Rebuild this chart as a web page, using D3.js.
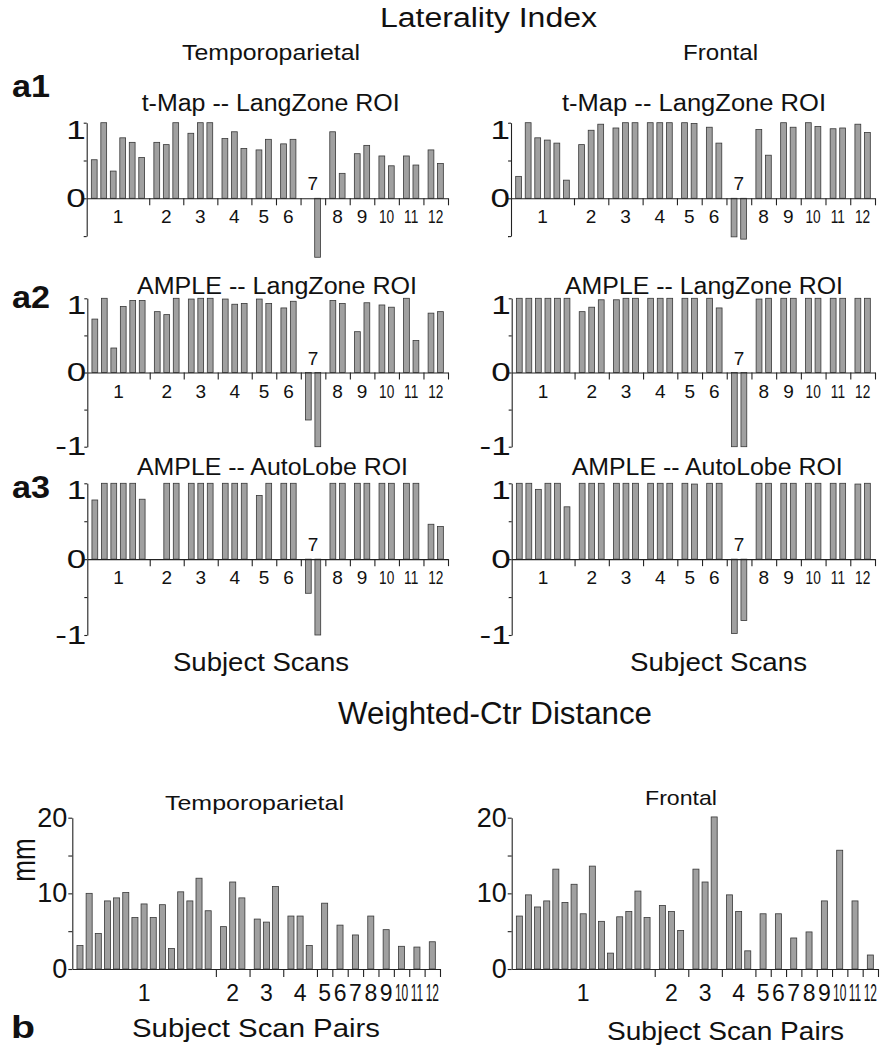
<!DOCTYPE html>
<html>
<head>
<meta charset="utf-8">
<script src="https://cdn.jsdelivr.net/npm/d3@7"></script>
<style>
  body { margin: 0; background: #fff; }
  svg { display: block; font-family: "Liberation Sans", Arial, Helvetica, sans-serif; }
</style>
</head>
<body>
<svg id="fig" width="891" height="1053"></svg>
<script>
// subjects and how many scans / scan pairs each one has
const subjects = ["1","2","3","4","5","6","7","8","9","10","11","12"];
const scansPerSubject = [6,3,3,3,2,2,2,2,2,2,2,2];
const pairsPerSubject = [15,3,3,3,1,1,1,1,1,1,1,1];

// laterality index, one value per scan (null = no bar)
const tmapTemporo = [0.51,1.0,0.36,0.80,0.74,0.54, 0.74,0.71,1.0, 0.86,1.0,1.0, 0.79,0.88,0.66,
  0.64,0.78, 0.72,0.78, null,-0.78, 0.88,0.33, 0.59,0.70, 0.56,0.43, 0.56,0.44, 0.64,0.46];
const tmapFrontal = [0.29,1.0,0.80,0.77,0.73,0.24, 0.71,0.90,0.98, 0.93,1.0,1.0, 1.0,1.0,1.0,
  1.0,0.99, 0.94,0.73, -0.51,-0.54, 0.91,0.57, 1.0,0.94, 1.0,0.95, 0.92,0.93, 0.98,0.87];
const ampleLangTemporo = [0.72,1.0,0.33,0.89,0.97,0.97, 0.82,0.78,1.0, 0.99,1.0,1.0, 0.99,0.92,0.93,
  0.99,0.93, 0.87,0.96, -0.64,-1.0, 0.97,0.93, 0.55,0.94, 0.91,0.88, 1.0,0.43, 0.80,0.82];
const ampleLangFrontal = [1,1,1,1,1,1, 0.82,0.88,0.98, 0.98,1,1, 1,1,1,
  1,1, 1,0.87, -1,-1, 0.99,1, 1,1, 1,1, 1,1, 1,1];
const ampleAutoTemporo = [0.78,1,1,1,1,0.79, null,1,1, 1,1,1, 1,1,1,
  0.84,1, 1,1, -0.45,-1, 1,1, 1,1, 1,1, 1,1, 0.46,0.43];
const ampleAutoFrontal = [1,1,0.92,1,1,0.69, 1,1,1, 1,1,1, 1,1,1,
  1,0.99, 1,1, -0.98,-0.81, 1,1, 1,1, 1,1, 1,1, 0.99,1];

// weighted-centre distance (mm), one value per scan pair
const distTemporo = [3.1,10.0,4.7,9.0,9.4,10.1,6.8,8.6,6.8,8.5,2.7,10.2,9.0,12.0,7.7,
  5.6,11.5,9.4, 6.6,6.2,10.9, 7.0,7.0,3.1, 8.7,5.8,4.5,7.0,5.2,3.0,2.9,3.6];
const distFrontal = [7.0,9.8,8.2,9.0,13.2,8.8,11.2,7.3,13.6,6.3,2.1,6.9,7.6,10.3,6.8,
  8.4,7.6,5.1, 13.2,11.5,20.1, 9.8,7.6,2.4, 7.3,7.3,4.1,4.9,9.0,15.7,9.0,1.85];

const liTicks = [-1,-0.5,0,0.5,1];
const liLabels = [-1,0,1];
const mmTicks = [0,5,10,15,20];
const mmLabels = [0,10,20];

const svg = d3.select("#fig");
const ink = "#111";

function text(x, y, str, size, len, bold) {
  const t = svg.append("text")
    .attr("x", x).attr("y", y)
    .attr("font-size", size)
    .attr("fill", ink)
    .text(str);
  if (bold) t.attr("font-weight", "bold");
  if (len) t.attr("textLength", len).attr("lengthAdjust", "spacingAndGlyphs");
  return t;
}

function drawPanel(p) {
  const g = svg.append("g");
  const E = p.gap, bw = p.barW;

  const starts = [];
  let acc = 0;
  p.sizes.forEach(n => { starts.push(acc); acc += n - 1 + bw + E; });

  const x = d3.scaleLinear().domain([0, acc]).range([p.x0, p.x1]);
  const y = d3.scaleLinear().domain(p.yDomain).range([p.yBottom, p.yTop]);

  const bars = [];
  let k = 0;
  p.sizes.forEach((n, gi) => {
    for (let j = 0; j < n; j++) bars.push({ u: starts[gi] + E / 2 + j, v: p.vals[k++], gi });
  });

  g.selectAll("rect")
    .data(bars.filter(d => d.v != null))
    .join("rect")
    .attr("x", d => x(d.u))
    .attr("width", x(bw) - x(0))
    .attr("y", d => y(Math.max(0, d.v)))
    .attr("height", d => Math.abs(y(d.v) - y(0)))
    .attr("fill", "#a0a0a0")
    .attr("stroke", "#383838")
    .attr("stroke-width", 0.8);

  // x axis with subject boundary ticks
  const bounds = starts.slice(1).concat([acc]);
  const xa = g.append("g")
    .attr("transform", `translate(0,${y(0)})`)
    .call(d3.axisBottom(x).tickValues(bounds).tickSize(p.xTick).tickSizeOuter(0).tickFormat(""));
  xa.selectAll("path, line").attr("stroke", "#222").attr("stroke-width", 1.1);

  // subject labels (two-digit ones squeezed horizontally)
  p.sizes.forEach((n, gi) => {
    const vals = bars.filter(d => d.gi === gi && d.v != null).map(d => d.v);
    const above = vals.length && d3.max(vals) <= 0;
    const cx = x(starts[gi] + (n - 1 + bw + E) / 2);
    const ly = above ? y(0) - p.labAbove : y(0) + p.labBelow;
    const s = subjects[gi];
    const sx = s.length > 1 ? p.squeeze : 1;
    g.append("text")
      .attr("transform", `translate(${cx},${ly}) scale(${sx},1)`)
      .attr("text-anchor", "middle")
      .attr("font-size", p.labSize)
      .attr("fill", ink)
      .text(s);
  });

  // y axis
  const ya = g.append("g")
    .attr("transform", `translate(${p.x0},0)`)
    .call(d3.axisLeft(y).tickValues(p.ticks.filter(v => v >= p.yDomain[0])).tickSize(p.yTick).tickSizeOuter(0)
      .tickFormat(d => p.labels.includes(d) ? String(d) : ""));
  ya.selectAll("path, line").attr("stroke", "#222").attr("stroke-width", 1.1);
  ya.selectAll("text")
    .attr("font-size", p.ySize)
    .attr("font-family", "inherit")
    .attr("fill", ink)
    .attr("x", -p.yLabGap)
    .each(function (d) {
      const t = d3.select(this);
      if (p.yStretch && t.text() !== "") {
        t.attr("textLength", t.text().length * 0.556 * p.ySize * p.yStretch * (t.text() === "-1" ? 0.8 : 1))
         .attr("lengthAdjust", "spacingAndGlyphs");
      }
      if (p.topDown && d === p.yDomain[1]) t.attr("dy", "0.62em");
    });
}

const liBase = { sizes: scansPerSubject, barW: 0.61, gap: 0.98, ticks: liTicks, labels: liLabels,
  xTick: 7, yTick: 3, labSize: 19, labBelow: 25, labAbove: 8, squeeze: 0.72,
  ySize: 25, yLabGap: 1, yStretch: 1.4, topDown: true };
const mmBase = { sizes: pairsPerSubject, barW: 0.66, gap: 1.02, ticks: mmTicks, labels: mmLabels,
  xTick: 8, yTick: 4, labSize: 23, labBelow: 32, labAbove: 8, squeeze: 0.52,
  ySize: 27, yLabGap: 5, yStretch: 0, topDown: false };

const panels = [
  { ...liBase, vals: tmapTemporo, x0: 86.7, x1: 448, yDomain: [-0.5, 1], yBottom: 236.1, yTop: 122.7 },
  { ...liBase, vals: tmapFrontal, x0: 511, x1: 875, yDomain: [-0.5, 1], yBottom: 236.1, yTop: 122.7 },
  { ...liBase, vals: ampleLangTemporo, x0: 87.3, x1: 448, yDomain: [-1, 1], yBottom: 446.7, yTop: 298.3 },
  { ...liBase, vals: ampleLangFrontal, x0: 511.7, x1: 875, yDomain: [-1, 1], yBottom: 446.7, yTop: 298.3 },
  { ...liBase, vals: ampleAutoTemporo, x0: 87.3, x1: 448, yDomain: [-1, 1], yBottom: 635, yTop: 483.3 },
  { ...liBase, vals: ampleAutoFrontal, x0: 511.7, x1: 875, yDomain: [-1, 1], yBottom: 635, yTop: 483.3 },
  { ...mmBase, vals: distTemporo, x0: 72.3, x1: 440, yDomain: [0, 20], yBottom: 969, yTop: 817.7 },
  { ...mmBase, vals: distFrontal, x0: 511.7, x1: 878, yDomain: [0, 20], yBottom: 969, yTop: 817.7 }
];
panels.forEach(drawPanel);

// headings and titles
text(380, 27, "Laterality Index", 27, 217);
text(182, 60, "Temporoparietal", 22, 178);
text(683, 60, "Frontal", 22, 75);
text(12, 97, "a1", 31, 38, true);
text(12, 308, "a2", 31, 38, true);
text(12, 498, "a3", 31, 38, true);
text(141.7, 111, "t-Map -- LangZone ROI", 23, 258);
text(562, 111, "t-Map -- LangZone ROI", 23, 264);
text(137, 294, "AMPLE -- LangZone ROI", 23, 280);
text(565, 294, "AMPLE -- LangZone ROI", 23, 278);
text(137, 475, "AMPLE -- AutoLobe ROI", 23, 271);
text(571.7, 475, "AMPLE -- AutoLobe ROI", 23, 271);
text(173, 671, "Subject Scans", 25, 176);
text(630, 671, "Subject Scans", 25, 177);
text(338, 724, "Weighted-Ctr Distance", 31, 314);
text(165, 810, "Temporoparietal", 21, 179);
text(645, 805, "Frontal", 21, 72);
text(11, 1038, "b", 31, 24, true);
text(132, 1037, "Subject Scan Pairs", 25, 248);
text(607, 1040, "Subject Scan Pairs", 25, 237);

svg.append("text")
  .attr("transform", "translate(35,860) scale(1.3,1) rotate(-90)")
  .attr("text-anchor", "middle")
  .attr("font-size", 26)
  .attr("fill", ink)
  .text("mm");
</script>
</body>
</html>
